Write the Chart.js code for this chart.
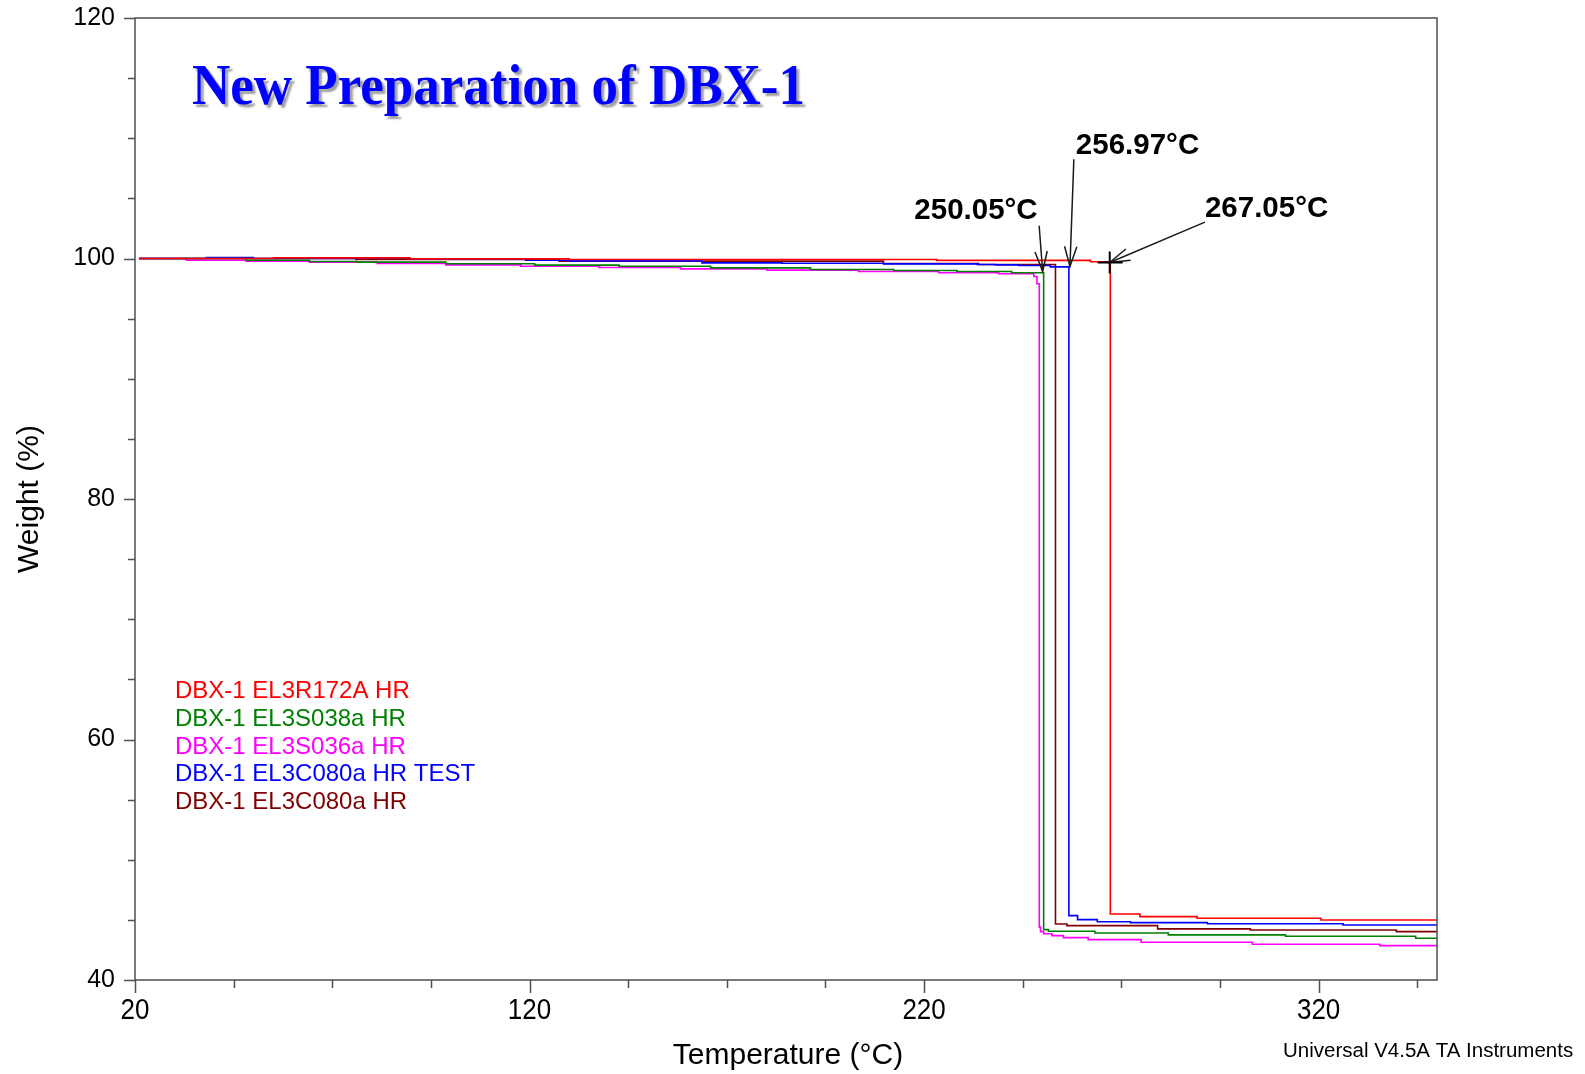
<!DOCTYPE html>
<html>
<head>
<meta charset="utf-8">
<title>New Preparation of DBX-1</title>
<script src="https://cdn.jsdelivr.net/npm/chart.js@4/dist/chart.umd.min.js"></script>
<style>
  html, body { margin: 0; padding: 0; background: #fff; }
  #wrap { width: 1585px; height: 1074px; position: relative; }
</style>
</head>
<body>
<div id="wrap"><canvas id="tga" width="1585" height="1074"></canvas></div>
<script>
// TGA runs: temperature (°C) and weight (%) step points for each sample
const seriesLabels = [
  'DBX-1 EL3R172A HR',
  'DBX-1 EL3S038a HR',
  'DBX-1 EL3S036a HR',
  'DBX-1 EL3C080a HR TEST',
  'DBX-1 EL3C080a HR'
];
const seriesColors = ['#ff0000', '#008000', '#ff00ff', '#0000ff', '#800000'];

const tempRed   = [21, 55.1, 89.7, 130, 223.2, 262.2, 267.2, 274.7, 289.2, 320.6, 350];
const weightRed = [100, 100.05, 99.97, 99.92, 99.84, 99.73, 45.49, 45.27, 45.13, 44.99, 44.99];

const tempGreen   = [21, 48.2, 64.2, 76.1, 98.8, 121.3, 142.7, 165.9, 191.2, 212.3, 228.3, 242.2, 250.3, 251.5, 263.3, 281.9, 311.6, 344.6, 350];
const weightGreen = [100, 99.86, 99.75, 99.7, 99.56, 99.45, 99.36, 99.22, 99.09, 99.0, 98.92, 98.81, 44.19, 44.05, 43.91, 43.75, 43.64, 43.47, 43.47];

const tempMagenta   = [21, 33, 48.2, 64.2, 81.4, 98.8, 117.8, 137.6, 158.3, 180.2, 203.4, 223.7, 238.9, 247.8, 248.6, 249.2, 249.5, 250.3, 252.4, 255.3, 261.6, 275, 303.2, 335.5, 350];
const weightMagenta = [100, 99.86, 99.78, 99.7, 99.58, 99.47, 99.36, 99.25, 99.14, 99.03, 98.92, 98.81, 98.73, 98.5, 97.9, 44.4, 44.02, 43.84, 43.69, 43.52, 43.36, 43.14, 42.97, 42.86, 42.86];

const tempBlue   = [21, 38.1, 50, 76, 89.7, 119, 129.7, 163.7, 184, 209.7, 233.5, 238, 244, 252, 256.7, 258.9, 263.9, 272.3, 291.8, 326.2, 350];
const weightBlue = [100, 100.08, 100.0, 100.03, 99.95, 99.86, 99.8, 99.64, 99.6, 99.55, 99.5, 99.47, 99.42, 99.3, 45.35, 45.02, 44.85, 44.77, 44.68, 44.58, 44.58];

const tempDarkRed   = [21, 76, 127.5, 209.7, 233.8, 253.3, 256.2, 279.2, 302.7, 339.7, 350];
const weightDarkRed = [100, 99.92, 99.78, 99.58, 99.5, 44.66, 44.52, 44.25, 44.16, 44.02, 44.02];

const seriesTemps   = [tempRed, tempGreen, tempMagenta, tempBlue, tempDarkRed];
const seriesWeights = [weightRed, weightGreen, weightMagenta, weightBlue, weightDarkRed];

// axis ticks
const xTickLabels = [20, 120, 220, 320];
const yTickLabels = [40, 60, 80, 100, 120];
const xMinorStep = 25;
const yMinorStep = 5;

// onset markers
const onsetTemps   = [250.05, 256.97, 267.05];
const onsetWeights = [98.92, 99.33, 99.67];

const chartTitle = 'New Preparation of DBX-1';
const footerText = 'Universal V4.5A TA Instruments';

function toPoints(t, w) { return t.map((x, i) => ({ x: x, y: w[i] })); }

const SANS = '"Liberation Sans", Arial, sans-serif';
const SERIF = '"Liberation Serif", "Times New Roman", serif';

function arrow(ctx, x0, y0, x1, y1) {
  ctx.beginPath();
  ctx.moveTo(x0, y0);
  ctx.lineTo(x1, y1);
  ctx.stroke();
  const ang = Math.atan2(y0 - y1, x0 - x1);
  const len = 21, spread = 17 * Math.PI / 180;
  ctx.beginPath();
  ctx.moveTo(x1 + len * Math.cos(ang - spread), y1 + len * Math.sin(ang - spread));
  ctx.lineTo(x1, y1);
  ctx.lineTo(x1 + len * Math.cos(ang + spread), y1 + len * Math.sin(ang + spread));
  ctx.stroke();
}

const background = {
  id: 'background',
  beforeDraw(chart) {
    const ctx = chart.ctx;
    ctx.save();
    ctx.fillStyle = '#fff';
    ctx.fillRect(0, 0, chart.width, chart.height);
    ctx.restore();
  }
};

const decorations = {
  id: 'decorations',
  afterDraw(chart) {
    const ctx = chart.ctx;
    const a = chart.chartArea;
    const xs = chart.scales.x, ys = chart.scales.y;

    // frame
    ctx.save();
    ctx.strokeStyle = '#505050';
    ctx.lineWidth = 1.5;
    ctx.strokeRect(a.left, a.top, a.right - a.left, a.bottom - a.top);

    // outward tick marks
    ctx.beginPath();
    for (let v = xs.min; v <= xs.max + 1e-9; v += xMinorStep) {
      const px = Math.round(xs.getPixelForValue(v)) + 0.5;
      const len = xTickLabels.includes(v) ? 13 : 8;
      ctx.moveTo(px, a.bottom);
      ctx.lineTo(px, a.bottom + len);
    }
    for (let v = ys.min; v <= ys.max + 1e-9; v += yMinorStep) {
      const py = Math.round(ys.getPixelForValue(v)) + 0.5;
      const len = yTickLabels.includes(v) ? 11 : 7;
      ctx.moveTo(a.left, py);
      ctx.lineTo(a.left - len, py);
    }
    ctx.stroke();

    // x tick labels
    ctx.fillStyle = '#000';
    ctx.font = '26px ' + SANS;
    ctx.textAlign = 'center';
    ctx.textBaseline = 'alphabetic';
    xTickLabels.forEach(v => {
      ctx.save();
      ctx.translate(xs.getPixelForValue(v), a.bottom + 39);
      ctx.scale(1, 1.12);
      ctx.fillText(String(v), 0, 0);
      ctx.restore();
    });

    // axis titles
    ctx.font = '30px ' + SANS;
    ctx.fillText('Temperature (°C)', (a.left + a.right) / 2 + 2, a.bottom + 84);
    ctx.save();
    ctx.translate(38, (a.top + a.bottom) / 2);
    ctx.rotate(-Math.PI / 2);
    ctx.fillText('Weight (%)', 0, 0);
    ctx.restore();

    // footer
    ctx.font = '20.5px ' + SANS;
    ctx.textAlign = 'left';
    ctx.fillText(footerText, 1283, 1057);

    // sample list
    ctx.font = '24px ' + SANS;
    chart.data.datasets.forEach((ds, i) => {
      ctx.fillStyle = ds.borderColor;
      ctx.fillText(ds.label, 175, 697.7 + i * 27.9);
    });

    // title with drop shadow
    ctx.save();
    ctx.font = 'bold 58px ' + SERIF;
    const tw = ctx.measureText(chartTitle).width;
    ctx.translate(192, 104);
    ctx.scale(613 / tw, 1);
    ctx.shadowColor = 'rgba(0,0,0,0.38)';
    ctx.shadowOffsetX = 3;
    ctx.shadowOffsetY = 3;
    ctx.shadowBlur = 2;
    ctx.fillStyle = '#0000ff';
    ctx.fillText(chartTitle, 0, 0);
    ctx.restore();

    // onset annotations
    const layouts = [
      { tx: -5, ty: -52.4, align: 'right', lx: -3.5, ly: -45.7 },
      { tx: 5.9, ty: -112.4, align: 'left', lx: 3.9, ly: -107.4 },
      { tx: 95.2, ty: -45.9, align: 'left', lx: 95.2, ly: -40.3 }
    ];
    ctx.strokeStyle = '#1a1a1a';
    ctx.fillStyle = '#000';
    ctx.lineWidth = 1.5;
    ctx.font = 'bold 29.5px ' + SANS;
    onsetTemps.forEach((t, i) => {
      const px = xs.getPixelForValue(t);
      const py = ys.getPixelForValue(onsetWeights[i]);
      const L = layouts[i];
      arrow(ctx, px + L.lx, py + L.ly, px, py);
      ctx.textAlign = L.align;
      ctx.fillText(t.toFixed(2) + '°C', px + L.tx, py + L.ty);
      if (i === 2) {
        ctx.save();
        ctx.lineWidth = 2;
        ctx.strokeStyle = '#000';
        ctx.beginPath();
        ctx.moveTo(px - 12, py); ctx.lineTo(px + 13, py);
        ctx.moveTo(px, py - 11); ctx.lineTo(px, py + 11);
        ctx.stroke();
        ctx.restore();
      }
    });
    ctx.restore();
  }
};

new Chart(document.getElementById('tga'), {
  type: 'line',
  data: {
    datasets: seriesLabels.map((label, i) => ({
      label: label,
      data: toPoints(seriesTemps[i], seriesWeights[i]),
      borderColor: seriesColors[i],
      backgroundColor: seriesColors[i],
      borderWidth: 1.6,
      pointRadius: 0,
      stepped: 'before',
      fill: false
    }))
  },
  options: {
    responsive: false,
    animation: false,
    layout: { padding: { top: 18, right: 148, left: 0, bottom: 0 } },
    plugins: { legend: { display: false }, tooltip: { enabled: false } },
    scales: {
      x: {
        type: 'linear', min: 20, max: 350,
        afterFit(s) { s.height = 94; s.paddingLeft = 0; s.paddingRight = 0; },
        ticks: { display: false, stepSize: xMinorStep },
        grid: { display: false, drawTicks: false },
        border: { display: false }
      },
      y: {
        type: 'linear', min: 40, max: 120,
        afterFit(s) { s.width = 135; s.paddingTop = 0; s.paddingBottom = 0; },
        ticks: {
          stepSize: yMinorStep, autoSkip: false, padding: 20, color: '#000',
          font: { family: '"Liberation Sans", Arial, sans-serif', size: 25 },
          callback: v => yTickLabels.includes(v) ? String(v) : ''
        },
        grid: { display: false, drawTicks: false },
        border: { display: false }
      }
    }
  },
  plugins: [background, decorations]
});
</script>
</body>
</html>
